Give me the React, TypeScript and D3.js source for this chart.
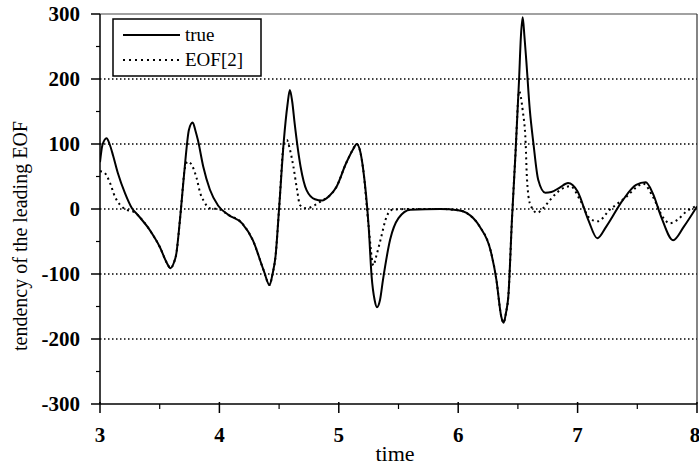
import React from "react";
import * as d3 from "d3";

const W = 699;
const H = 465;

const trueT = [3.0, 3.02, 3.055, 3.08, 3.11, 3.15, 3.21, 3.265, 3.32, 3.4, 3.45, 3.5, 3.56, 3.59, 3.62, 3.64, 3.66, 3.68, 3.71, 3.745, 3.776, 3.8, 3.82, 3.865, 3.92, 3.99, 4.075, 4.19, 4.28, 4.37, 4.42, 4.445, 4.47, 4.5, 4.54, 4.57, 4.59, 4.61, 4.63, 4.68, 4.73, 4.8, 4.86, 4.92, 4.98, 5.06, 5.12, 5.15, 5.18, 5.205, 5.25, 5.275, 5.3, 5.32, 5.345, 5.37, 5.43, 5.5, 5.6, 5.85, 6.0, 6.07, 6.18, 6.27, 6.32, 6.36, 6.38, 6.4, 6.42, 6.45, 6.48, 6.51, 6.525, 6.54, 6.555, 6.57, 6.6, 6.63, 6.67, 6.73, 6.78, 6.85, 6.92, 7.0, 7.09, 7.165, 7.24, 7.38, 7.49, 7.57, 7.63, 7.7, 7.8, 7.89, 8.0];
const trueV = [72, 98, 109, 100, 82, 55, 24, 2, -10, -28, -42, -58, -83, -91, -82, -68, -35, 4, 65, 122, 133, 120, 106, 65, 30, 5, -9, -22, -48, -94, -117, -100, -73, 1, 106, 160, 183, 165, 132, 65, 29, 15, 13, 20, 34, 70, 92, 100, 88, 60, -27, -104, -140, -151, -140, -109, -47, -14, -1, 0, -2, -6, -27, -63, -109, -165, -175, -160, -134, -17, 86, 200, 265, 295, 265, 229, 152, 101, 45, 25, 26, 33, 40, 27, -17, -45, -27, 14, 37, 41, 24, -12, -48, -27, 4];

const eofT = [3.0, 3.03, 3.08, 3.125, 3.17, 3.22, 3.29, 3.32, 3.4, 3.45, 3.5, 3.56, 3.59, 3.62, 3.64, 3.66, 3.68, 3.71, 3.735, 3.76, 3.81, 3.84, 3.87, 3.92, 3.99, 4.075, 4.19, 4.28, 4.37, 4.42, 4.445, 4.47, 4.5, 4.54, 4.565, 4.59, 4.62, 4.65, 4.675, 4.73, 4.8, 4.86, 4.92, 4.98, 5.06, 5.12, 5.15, 5.18, 5.205, 5.25, 5.29, 5.31, 5.35, 5.4, 5.45, 5.6, 5.85, 6.0, 6.07, 6.18, 6.27, 6.32, 6.36, 6.38, 6.4, 6.42, 6.45, 6.48, 6.51, 6.54, 6.565, 6.575, 6.6, 6.66, 6.71, 6.77, 6.82, 6.88, 6.94, 7.02, 7.1, 7.17, 7.27, 7.34, 7.41, 7.49, 7.55, 7.63, 7.72, 7.77, 7.84, 7.91, 8.0];
const eofV = [58, 57, 42, 19, 6, -1, -5, -10, -28, -42, -58, -83, -91, -82, -68, -35, 4, 62, 73, 70, 47, 24, 12, 1, 0, -9, -22, -48, -94, -117, -100, -73, 1, 100, 106, 92, 65, 30, 6, 1, 6, 13, 20, 34, 70, 92, 100, 88, 60, -27, -87, -75, -47, -12, -1, 0, 0, -2, -6, -27, -63, -109, -165, -175, -160, -134, -17, 86, 181, 152, 101, 50, 9, -6, 1, 14, 24, 32, 35, 14, -14, -19, -1, 9, 19, 33, 39, 19, -14, -22, -16, -4, 5];

const xMajor = [3, 4, 5, 6, 7, 8];
const xMinor = [3.5, 4.5, 5.5, 6.5, 7.5];
const yMajor = [-300, -200, -100, 0, 100, 200, 300];
const yMinor = [-250, -150, -50, 50, 150, 250];
const yGrid = [-200, -100, 0, 100, 200];
const seriesNames = ["true", "EOF[2]"];
const xTitle = "time";
const yTitle = "tendency of the leading EOF";

const L = 100, R = 697, T = 14, B = 404;
const serif = "'Liberation Serif', 'Times New Roman', serif";

export default function App() {
  const x = d3.scaleLinear().domain([3, 8]).range([L, R]);
  const y = d3.scaleLinear().domain([-300, 300]).range([B, T]);
  const line = d3
    .line<[number, number]>()
    .x((d) => x(d[0]))
    .y((d) => y(d[1]))
    .curve(d3.curveMonotoneX);
  const trueData = trueT.map((t, i) => [t, trueV[i]] as [number, number]);
  const eofData = eofT.map((t, i) => [t, eofV[i]] as [number, number]);

  return (
    <div style={{ position: "fixed", left: 0, top: 0 }}>
      <svg width={W} height={H} style={{ display: "block", background: "#fff" }}>
        <defs>
          <clipPath id="plot">
            <rect x={L} y={T - 2} width={R - L} height={B - T + 4} />
          </clipPath>
        </defs>
        {yGrid.map((v) => (
          <line key={"g" + v} x1={L} x2={R} y1={y(v)} y2={y(v)} stroke="#000" strokeWidth={1.5} strokeDasharray="1.5 2.5" />
        ))}
        <line x1={L} x2={R} y1={T} y2={T} stroke="#444" strokeWidth={1.2} />
        <line x1={R} x2={R} y1={T} y2={B} stroke="#333" strokeWidth={1.2} />
        <line x1={L} x2={L} y1={T} y2={B} stroke="#000" strokeWidth={1.5} />
        <line x1={L} x2={R} y1={B} y2={B} stroke="#000" strokeWidth={1.5} />
        {yMajor.map((v) => (
          <g key={"ym" + v}>
            <line x1={L - 9} x2={L} y1={y(v)} y2={y(v)} stroke="#000" strokeWidth={1.5} />
            <text x={80} y={y(v)} dy="0.35em" textAnchor="end" fontFamily={serif} fontWeight="bold" fontSize={21}>
              {v}
            </text>
          </g>
        ))}
        {yMinor.map((v) => (
          <line key={"yn" + v} x1={L - 4} x2={L} y1={y(v)} y2={y(v)} stroke="#000" strokeWidth={1.2} />
        ))}
        {xMajor.map((v) => (
          <g key={"xm" + v}>
            <line x1={x(v)} x2={x(v)} y1={B - 2} y2={B + 9} stroke="#000" strokeWidth={1.5} />
            <text x={v === 8 ? x(v) - 2 : x(v)} y={442} textAnchor="middle" fontFamily={serif} fontWeight="bold" fontSize={21}>
              {v}
            </text>
          </g>
        ))}
        {xMinor.map((v) => (
          <line key={"xn" + v} x1={x(v)} x2={x(v)} y1={B} y2={B + 5} stroke="#000" strokeWidth={1.2} />
        ))}
        <text x={395} y={461} textAnchor="middle" fontFamily={serif} fontSize={22}>
          {xTitle}
        </text>
        <text transform={`translate(27, ${236}) rotate(-90)`} textAnchor="middle" fontFamily={serif} fontSize={20}>
          {yTitle}
        </text>
        <g clipPath="url(#plot)">
          <path d={line(eofData) || ""} fill="none" stroke="#000" strokeWidth={2} strokeDasharray="2 3.5" />
          <path d={line(trueData) || ""} fill="none" stroke="#000" strokeWidth={2} />
        </g>
        <rect x={113} y={19} width={148} height={57} fill="#fff" stroke="#000" strokeWidth={1.5} />
        <line x1={123} x2={180} y1={35} y2={35} stroke="#000" strokeWidth={1.8} />
        <text x={185} y={41} fontFamily={serif} fontSize={19}>
          {seriesNames[0]}
        </text>
        <line x1={123} x2={180} y1={60} y2={60} stroke="#000" strokeWidth={2} strokeDasharray="2 4" />
        <text x={185} y={66} fontFamily={serif} fontSize={19}>
          {seriesNames[1]}
        </text>
      </svg>
    </div>
  );
}
